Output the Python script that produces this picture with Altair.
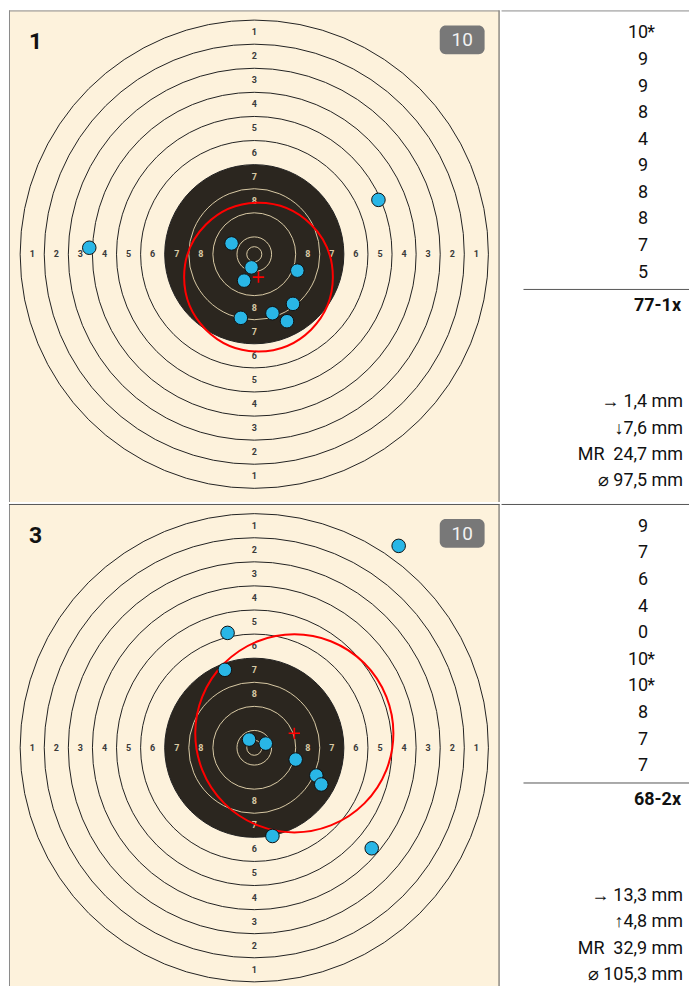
import altair as alt
import pandas as pd

# ---------------- target geometry (10 m air pistol target, mm) ----------------
RING_SCORES = [1, 2, 3, 4, 5, 6, 7, 8, 9, 10]
RING_RADIUS_MM = [77.75, 69.75, 61.75, 53.75, 45.75, 37.75, 29.75, 21.75, 13.75, 5.75]
INNER_TEN_RADIUS_MM = 2.5
BLACK_RING = 7
SHOT_DIAMETER_MM = 4.5
LABEL_RINGS = [1, 2, 3, 4, 5, 6, 7, 8]

# ---------------- series ----------------
P1_NUMBER = "1"
P1_BADGE = "10"
P1_SCORES = ["10*", "9", "9", "8", "4", "9", "8", "8", "7", "5"]
P1_SHOT_X = [-0.93, -7.55, -3.38, 6.03, -54.80, 14.30, 12.85, -4.47, 10.86, 41.23]
P1_SHOT_Y = [-4.37, 3.58, -8.77, -19.60, 2.15, -5.46, -16.49, -21.13, -22.25, 18.05]
P1_TOTAL = "77-1x"
P1_CENTER = [1.4, -7.6]
P1_MR = 24.7
P1_STATS = ["\u2192\u20091,4 mm", "\u21937,6 mm", "MR\u00a0 24,7 mm", "\u2300 97,5 mm"]

P2_NUMBER = "3"
P2_BADGE = "10"
P2_SCORES = ["9", "7", "6", "4", "0", "10*", "10*", "8", "7", "7"]
P2_SHOT_X = [13.74, -9.77, -8.87, 39.00, 47.95, -1.72, 3.81, 20.60, 22.25, 6.03]
P2_SHOT_Y = [-3.91, 25.89, 38.15, -33.38, 67.05, 2.72, 1.39, -9.21, -12.19, -29.30]
P2_TOTAL = "68-2x"
P2_CENTER = [13.3, 4.8]
P2_MR = 32.9
P2_STATS = ["\u2192\u200913,3 mm", "\u21914,8 mm", "MR\u00a0 32,9 mm", "\u2300 105,3 mm"]

# ---------------- layout ----------------
PX_PER_MM = 3.02
TARGET_W = 492
PANEL_H = 493
CENTER_FROM_TOP = 244.5
TEXT_W = 188
FONT = "Roboto"

PAPER = "#FDF2DC"
BLACK = "#2B261F"
TAN = "#D9CAA5"
INK = "#222222"
SHOT_FILL = "#29B6E6"
RED = "#FF0000"
FRAME = "#555555"
OUTER_FRAME = "#8A8A8A"

XS = alt.Scale(domain=[-TARGET_W / 2 / PX_PER_MM, TARGET_W / 2 / PX_PER_MM], nice=False, zero=False)
YS = alt.Scale(domain=[-(PANEL_H - CENTER_FROM_TOP) / PX_PER_MM, CENTER_FROM_TOP / PX_PER_MM],
               nice=False, zero=False)
SIZE_MAX_MM = 200
SS = alt.Scale(type="pow", exponent=2, domain=[0, SIZE_MAX_MM],
               range=[0, (SIZE_MAX_MM * PX_PER_MM) ** 2], zero=True)

# text column: row units
ROW_PX = 26.67
FIRST_ROW_PX = 23
TS = alt.Scale(domain=[-FIRST_ROW_PX / ROW_PX, (PANEL_H - FIRST_ROW_PX) / ROW_PX],
               reverse=True, nice=False, zero=False)

NO_FRAME = alt.ViewBackground(stroke="transparent", strokeWidth=0)


def circle_layer(df, **mark):
    return alt.Chart(df).mark_point(shape="circle", opacity=1, **mark).encode(
        x=alt.X("cx:Q", scale=XS, axis=None),
        y=alt.Y("cy:Q", scale=YS, axis=None),
        size=alt.Size("d:Q", scale=SS, legend=None),
    )


def frame_rule(info, color, **enc):
    return alt.Chart(info).mark_rule(color=color, strokeWidth=1).encode(**enc)


def target_chart(number, badge, shot_x, shot_y, center, mr, first):
    rings = pd.DataFrame({"score": RING_SCORES, "r": RING_RADIUS_MM})
    rings["d"] = rings["r"] * 2
    rings["cx"] = 0.0
    rings["cy"] = 0.0
    outer = rings[rings.score < BLACK_RING]
    black = rings[rings.score == BLACK_RING]
    inner = rings[rings.score > BLACK_RING]
    inner = pd.concat([inner, pd.DataFrame({"score": [11], "r": [INNER_TEN_RADIUS_MM],
                                            "d": [INNER_TEN_RADIUS_MM * 2], "cx": [0.0], "cy": [0.0]})])

    lab = []
    for k in LABEL_RINGS:
        rm = (RING_RADIUS_MM[k - 1] + RING_RADIUS_MM[k]) / 2
        zone = "black" if k >= BLACK_RING else "paper"
        for (lx, ly) in [(0, rm), (0, -rm), (-rm, 0), (rm, 0)]:
            lab.append({"t": str(k), "lx": lx, "ly": ly, "zone": zone})
    labels = pd.DataFrame(lab)

    shots = pd.DataFrame({"cx": shot_x, "cy": shot_y})
    shots["d"] = SHOT_DIAMETER_MM
    grp = pd.DataFrame({"cx": [center[0]], "cy": [center[1]], "d": [2 * mr]})
    info = pd.DataFrame({"number": [number], "badge": [badge]})

    l_bg = alt.Chart(info).mark_rect(color=PAPER).encode(
        x=alt.value(0), x2=alt.value(TARGET_W), y=alt.value(0), y2=alt.value(PANEL_H))
    l_outer = circle_layer(outer, filled=False, color=INK, strokeWidth=1)
    l_black = circle_layer(black, filled=True, fill=BLACK, stroke=INK, strokeWidth=1)
    l_inner = circle_layer(inner, filled=False, color=TAN, strokeWidth=1)
    l_labels = alt.Chart(labels).mark_text(font=FONT, fontSize=9, fontWeight="bold",
                                            align="center", baseline="middle").encode(
        x=alt.X("lx:Q", scale=XS, axis=None),
        y=alt.Y("ly:Q", scale=YS, axis=None),
        text="t:N",
        color=alt.Color("zone:N", scale=alt.Scale(domain=["paper", "black"], range=["#3A3A3A", TAN]),
                        legend=None),
    )
    l_group = circle_layer(grp, filled=False, color=RED, strokeWidth=2)
    l_shots = circle_layer(shots, filled=True, fill=SHOT_FILL, stroke="#111111", strokeWidth=1)
    l_cross = alt.Chart(grp).mark_point(shape="M-1,0L1,0M0,-1L0,1", size=130, filled=False,
                                         color=RED, strokeWidth=1.6, opacity=1).encode(
        x=alt.X("cx:Q", scale=XS, axis=None),
        y=alt.Y("cy:Q", scale=YS, axis=None),
    )
    l_num = alt.Chart(info).mark_text(font=FONT, fontSize=23, fontWeight="bold", align="left",
                                      baseline="middle", color="#111").encode(
        x=alt.value(20), y=alt.value(32), text="number:N")
    l_badge = alt.Chart(info).mark_rect(cornerRadius=6, color="#787878").encode(
        x=alt.value(432), x2=alt.value(477), y=alt.value(15), y2=alt.value(44))
    l_badge_t = alt.Chart(info).mark_text(font=FONT, fontSize=19, align="center",
                                          baseline="middle", color="#F2F2F2").encode(
        x=alt.value(454.5), y=alt.value(30), text="badge:N")

    l_left = frame_rule(info, OUTER_FRAME, x=alt.value(0.5), y=alt.value(0), y2=alt.value(PANEL_H))
    l_right = frame_rule(info, FRAME, x=alt.value(TARGET_W - 0.5), y=alt.value(0), y2=alt.value(PANEL_H))
    l_top = frame_rule(info, OUTER_FRAME if first else FRAME,
                       x=alt.value(0), x2=alt.value(TARGET_W), y=alt.value(0.5))

    return alt.layer(l_bg, l_outer, l_black, l_inner, l_labels, l_group, l_shots, l_cross,
                     l_num, l_badge, l_badge_t, l_left, l_right, l_top).properties(
        width=TARGET_W, height=PANEL_H, view=NO_FRAME)


def text_chart(scores, total, stats, first):
    sc = pd.DataFrame({"row": list(range(len(scores))),
                       "digits": [s.replace("*", "") for s in scores],
                       "star": ["*" if "*" in s else "" for s in scores]})
    n = len(scores)
    rule = pd.DataFrame({"row": [n - 0.37]})
    tot = pd.DataFrame({"row": [n + 0.27], "t": [total]})
    st = pd.DataFrame({"row": [n + 3.88 + i * 0.99 for i in range(len(stats))], "t": stats})
    info = pd.DataFrame({"edge": ["top"]})

    y = alt.Y("row:Q", scale=TS, axis=None)
    base_txt = dict(font=FONT, fontSize=18, baseline="middle", color="#111111")
    l_top = frame_rule(info, OUTER_FRAME if first else FRAME,
                       x=alt.value(0), x2=alt.value(TEXT_W), y=alt.value(0.5))
    l_digits = alt.Chart(sc).mark_text(align="right", **base_txt).encode(
        x=alt.value(147), y=y, text="digits:N")
    l_star = alt.Chart(sc).mark_text(align="left", **base_txt).encode(
        x=alt.value(146), y=y, text="star:N")
    l_rule = alt.Chart(rule).mark_rule(color=FRAME, strokeWidth=1).encode(
        x=alt.value(22), x2=alt.value(TEXT_W), y=y)
    l_total = alt.Chart(tot).mark_text(align="right", fontWeight="bold", **base_txt).encode(
        x=alt.value(180), y=y, text="t:N")
    l_stats = alt.Chart(st).mark_text(align="right", **base_txt).encode(
        x=alt.value(182), y=y, text="t:N")
    return alt.layer(l_top, l_digits, l_star, l_rule, l_total, l_stats).properties(
        width=TEXT_W, height=PANEL_H, view=NO_FRAME)


row1 = alt.hconcat(target_chart(P1_NUMBER, P1_BADGE, P1_SHOT_X, P1_SHOT_Y, P1_CENTER, P1_MR, True),
                   text_chart(P1_SCORES, P1_TOTAL, P1_STATS, True), spacing=0)
row2 = alt.hconcat(target_chart(P2_NUMBER, P2_BADGE, P2_SHOT_X, P2_SHOT_Y, P2_CENTER, P2_MR, False),
                   text_chart(P2_SCORES, P2_TOTAL, P2_STATS, False), spacing=0)

# the page is cut at the window's bottom edge, as in the reference
chart = alt.vconcat(row1, row2, spacing=0).properties(
    padding={"top": 0, "left": 0, "right": 0, "bottom": -12}
).configure_view(stroke="transparent", strokeWidth=0).configure_concat(spacing=0)

chart.save("out.html", embed_options={"renderer": "svg", "actions": False})
